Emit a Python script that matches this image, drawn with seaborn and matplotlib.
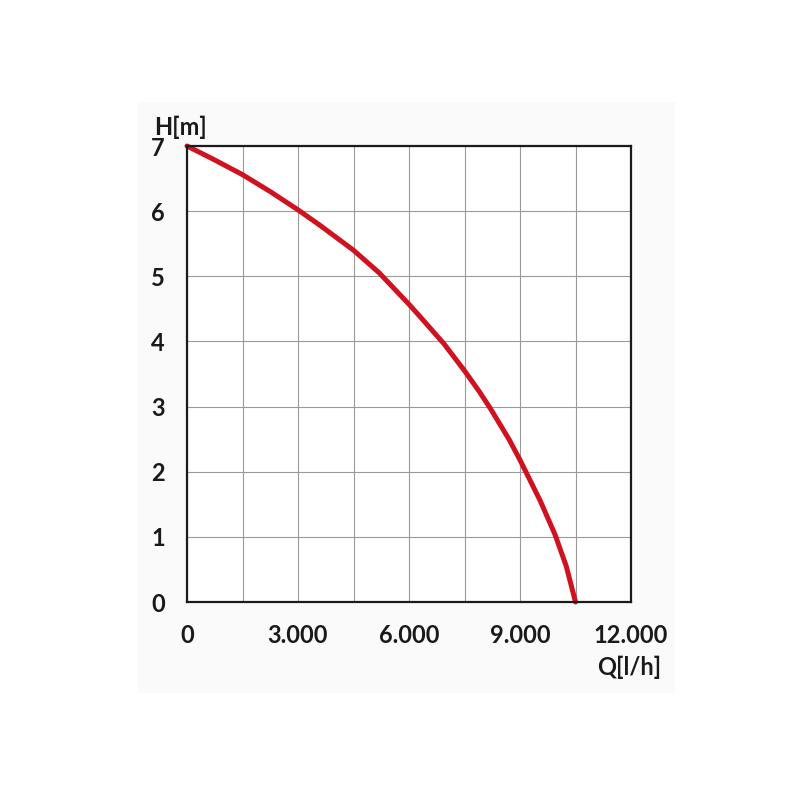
import numpy as np
import pandas as pd
import matplotlib
matplotlib.use("Agg")
import matplotlib.pyplot as plt
import seaborn as sns
from matplotlib.patches import Rectangle

# pump curve
flow_lh = [0, 700, 1500, 2250, 3000, 3600, 4500, 5200, 6000, 6300, 6950,
           7500, 7900, 8200, 8700, 9000, 9550, 9950, 10250, 10500]
head_m = [7.0, 6.80, 6.56, 6.30, 6.02, 5.78, 5.40, 5.05, 4.57, 4.38, 3.96,
          3.55, 3.23, 2.97, 2.50, 2.18, 1.55, 1.03, 0.55, 0.0]

x_ticks = [0, 3000, 6000, 9000, 12000]
x_tick_labels = ["0", "3.000", "6.000", "9.000", "12.000"]
x_minor = [1500, 4500, 7500, 10500]
y_ticks = [0, 1, 2, 3, 4, 5, 6, 7]

df = pd.DataFrame({"Q": flow_lh, "H": head_m})

sns.set_style("white")
plt.rcParams['font.family'] = ['Lato', 'DejaVu Sans']

fig = plt.figure(figsize=(8, 8), dpi=100)
# faint backdrop panel
fig.patches.append(Rectangle((138 / 800, 1 - 693 / 800), (675 - 138) / 800, (693 - 102) / 800,
                             transform=fig.transFigure, facecolor="#fafafa",
                             edgecolor="none", zorder=-5))

ax = fig.add_axes([187 / 800, 1 - 602 / 800, (631 - 187) / 800, (602 - 146) / 800])
ax.set_zorder(2)
ax.set_facecolor("white")

sns.lineplot(data=df, x="Q", y="H", ax=ax, color="#d0111f", linewidth=3.6,
             sort=False, zorder=5, clip_on=False)
ax.lines[0].set_solid_joinstyle("round")

ax.set_xlim(0, 12000)
ax.set_ylim(0, 7)
ax.set_xticks(x_ticks)
ax.set_xticks(x_minor, minor=True)
ax.set_xticklabels(x_tick_labels)
ax.set_yticks(y_ticks)
ax.grid(True, which="both", color="#9a9a9a", linewidth=0.8)
ax.set_axisbelow(True)

for s in ax.spines.values():
    s.set_color("#1a1a1a")
    s.set_linewidth(1.6)
    s.set_zorder(6)

ax.tick_params(axis="x", which="major", direction="out", length=9, width=0.8,
               color="#9a9a9a", labelsize=17, pad=7)
ax.tick_params(axis="x", which="minor", length=0)
ax.tick_params(axis="y", direction="out", length=9, width=0.8,
               color="#9a9a9a", labelsize=17, pad=7)
for lab in ax.get_xticklabels() + ax.get_yticklabels():
    lab.set_fontweight("bold")
    lab.set_color("#1a1a1a")

ax.set_xlabel("")
ax.set_ylabel("")
fig.text(154 / 800, 1 - 127 / 800, "H[m]", fontsize=17, fontweight="bold",
         color="#1a1a1a", ha="left", va="center")
fig.text(661 / 800, 1 - 667 / 800, "Q[l/h]", fontsize=17, fontweight="bold",
         color="#1a1a1a", ha="right", va="center")

fig.savefig("out.png", dpi=100, facecolor="white")
